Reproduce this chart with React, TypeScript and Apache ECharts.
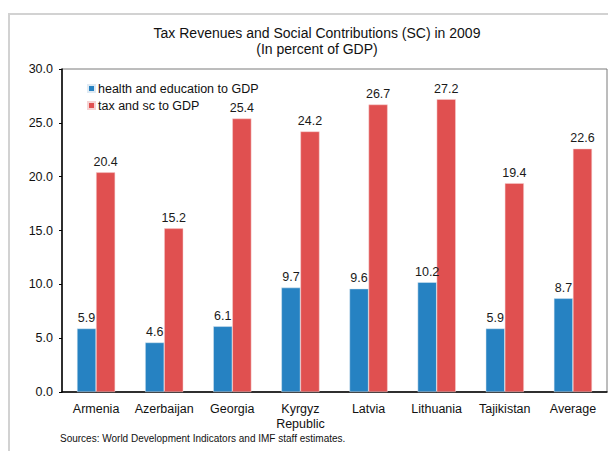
import React, { useEffect, useRef } from "react";
import * as echarts from "echarts";

const categories = ["Armenia", "Azerbaijan", "Georgia", "Kyrgyz\nRepublic", "Latvia", "Lithuania", "Tajikistan", "Average"];
const healthEdu = [5.9, 4.6, 6.1, 9.7, 9.6, 10.2, 5.9, 8.7];
const taxSc = [20.4, 15.2, 25.4, 24.2, 26.7, 27.2, 19.4, 22.6];
const seriesNames = ["health and education to GDP", "tax and sc to GDP"];
const titleLines = ["Tax Revenues and Social Contributions (SC) in 2009", "(In percent of GDP)"];
const sourceNote = "Sources: World Development Indicators and IMF staff estimates.";

const FONT = "'Liberation Sans', Arial, sans-serif";

export default function App() {
  const ref = useRef<HTMLDivElement>(null);
  useEffect(() => {
    document.body.style.margin = "0";
    const chart = echarts.init(ref.current!, null, { renderer: "svg" });
    const labelStyle = {
      show: true,
      position: "top" as const,
      color: "#1a1a1a",
      fontSize: 12.5,
      fontFamily: FONT,
      distance: 4,
      formatter: (p: any) => Number(p.value).toFixed(1),
    };
    chart.setOption({
      animation: false,
      backgroundColor: "#ffffff",
      textStyle: { fontFamily: FONT },
      title: {
        text: titleLines.join("\n"),
        left: 312,
        textAlign: "center",
        top: 20,
        textStyle: { fontSize: 14, fontWeight: "normal", color: "#111", fontFamily: FONT, lineHeight: 16 },
      },
      legend: {
        orient: "vertical",
        left: 82,
        top: 77,
        itemWidth: 7,
        itemHeight: 7,
        itemGap: 4,
        icon: "rect",
        textStyle: { fontSize: 12.5, color: "#111", fontFamily: FONT, padding: [0, 0, 0, -2] },
        data: seriesNames,
      },
      grid: {
        left: 62,
        top: 69,
        right: 1,
        bottom: 59,
        show: true,
        borderColor: "#7a7a7a",
        borderWidth: 1,
      },
      xAxis: {
        type: "category",
        data: categories,
        axisLine: { lineStyle: { color: "#000", width: 1.5 } },
        axisTick: { show: false },
        axisLabel: { color: "#111", fontSize: 12.5, fontFamily: FONT, margin: 9, lineHeight: 15, interval: 0 },
      },
      yAxis: {
        type: "value",
        min: 0,
        max: 30,
        interval: 5,
        axisLine: { show: true, lineStyle: { color: "#000", width: 1.5 } },
        axisTick: { show: true, length: 3, lineStyle: { color: "#000" } },
        splitLine: { show: false },
        axisLabel: { color: "#111", fontSize: 12.5, fontFamily: FONT, margin: 9, formatter: (v: number) => v.toFixed(1) },
      },
      graphic: [
        {
          type: "rect",
          shape: { x: 9, y: 14, width: 700, height: 500 },
          style: { fill: "none", stroke: "#d2d2d2", lineWidth: 2 },
          silent: true,
        },
        {
          type: "text",
          left: 60,
          top: 433,
          style: { text: sourceNote, fontSize: 10, fill: "#111", fontFamily: FONT },
        },
      ],
      series: [
        {
          name: seriesNames[0],
          type: "bar",
          data: healthEdu,
          barWidth: "28%",
          barGap: "0%",
          itemStyle: { color: "#2682C2", borderColor: "#dfeaf3", borderWidth: 0.5 },
          label: labelStyle,
        },
        {
          name: seriesNames[1],
          type: "bar",
          data: taxSc,
          barWidth: "28%",
          barGap: "0%",
          itemStyle: { color: "#E05050", borderColor: "#f6d3d3", borderWidth: 0.5 },
          label: labelStyle,
        },
      ],
    });
    return () => chart.dispose();
  }, []);
  return <div ref={ref} style={{ width: 608, height: 451 }} />;
}
